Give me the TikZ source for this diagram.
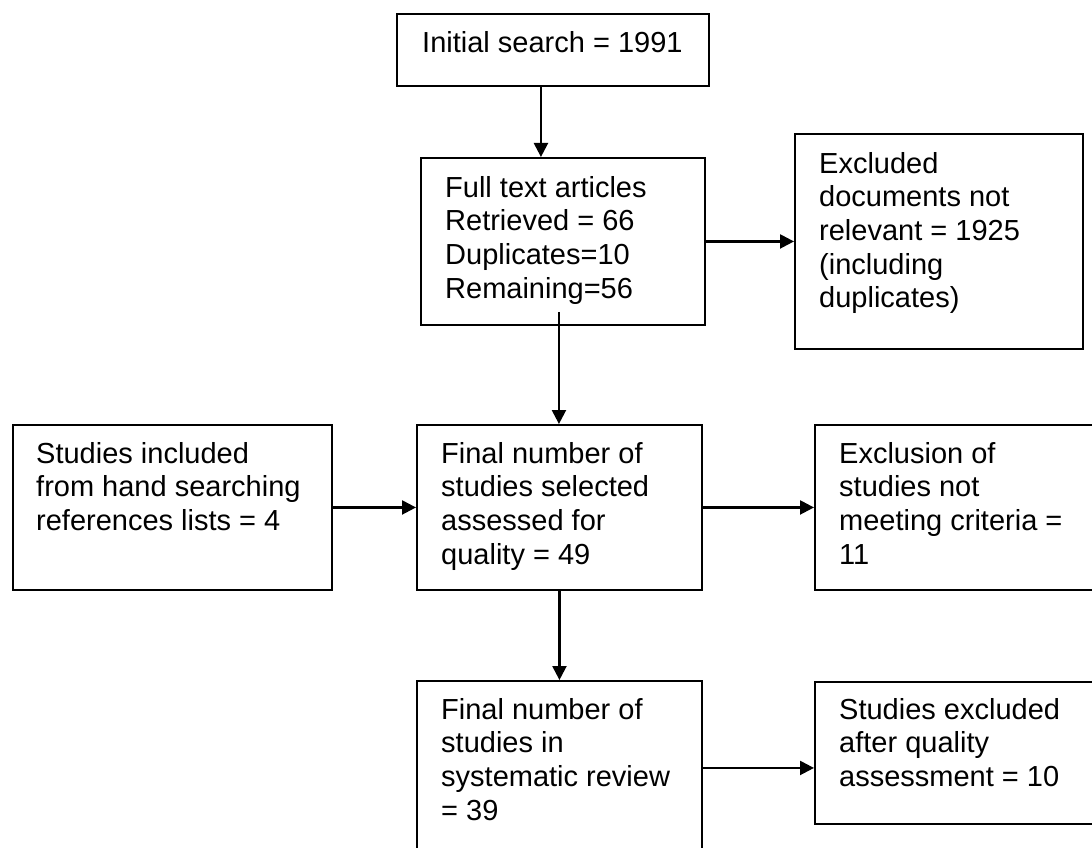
\documentclass[tikz,border=0pt]{standalone}
\usepackage{fontspec}
\setmainfont{Liberation Sans}
\usetikzlibrary{arrows.meta,calc}
\begin{document}
\begin{tikzpicture}[x=1pt,y=-1pt,
  box/.style={draw=black, line width=1.9pt, inner sep=0pt, rectangle, anchor=north west},
  txt/.style={inner sep=0pt, anchor=base west, align=left,
    font=\fontsize{29}{33.7}\selectfont},
  arr/.style={line width=2.3pt, -{Triangle[length=14pt,width=14pt]}}]
\useasboundingbox (0,0) rectangle (1092,848);
\clip (0,0) rectangle (1092,848);

% boxes
\node[box, minimum width=312pt, minimum height=72pt]  (b1) at (396,13)  {};
\node[box, minimum width=284pt, minimum height=167pt] (b2) at (420,157) {};
\node[box, minimum width=288pt, minimum height=215pt] (b3) at (794,133) {};
\node[box, minimum width=319pt, minimum height=165pt] (b4) at (12,424)  {};
\node[box, minimum width=285pt, minimum height=165pt] (b5) at (416,424) {};
\node[box, minimum width=300pt, minimum height=165pt] (b6) at (814,424) {};
\node[box, minimum width=285pt, minimum height=190pt] (b7) at (416,680) {};
\node[box, minimum width=300pt, minimum height=142pt] (b8) at (814,681) {};

% texts (anchored at the baseline of their last line)
\node[txt] (t1) at ($(b1.north west)+(26,40)$) {Initial search = 1991};
\node[txt] (t2) at ($(b2.north west)+(25,141.1)$) {Full text articles\\Retrieved = 66\\Duplicates=10\\Remaining=56};
\node[txt] (t3) at ($(b3.north west)+(25,174.8)$) {Excluded\\documents not\\relevant = 1925\\(including\\duplicates)};
\node[txt] (t4) at ($(b4.north west)+(24,106.4)$) {Studies included\\from hand searching\\references lists = 4};
\node[txt] (t5) at ($(b5.north west)+(25,140.1)$) {Final number of\\studies selected\\assessed for\\quality = 49};
\node[txt] (t6) at ($(b6.north west)+(25,140.1)$) {Exclusion of\\studies not\\meeting criteria =\\11};
\node[txt] (t7) at ($(b7.north west)+(25,140.1)$) {Final number of\\studies in\\systematic review\\= 39};
\node[txt] (t8) at ($(b8.north west)+(25,105.4)$) {Studies excluded\\after quality\\assessment = 10};

% connector anchor points
\coordinate (c1) at ([xshift=-12pt]b1.south);
\coordinate (c2) at ([shift={(-4pt,14pt)}]b2.south);
\coordinate (c7) at ([yshift=-15pt]b8.west);

% connectors
\draw[arr] (c1) -- (c1 |- b2.north);
\draw[arr] (b2.east) -- (b2.east -| b3.west);
\draw[arr] (c2) -- (c2 |- b5.north);
\draw[arr] (b4.east) -- (b4.east -| b5.west);
\draw[arr] (b5.east) -- (b5.east -| b6.west);
\draw[arr] (b5.south) -- (b5.south |- b7.north);
\draw[arr] (b7.east |- c7) -- (c7);
\end{tikzpicture}
\end{document}
